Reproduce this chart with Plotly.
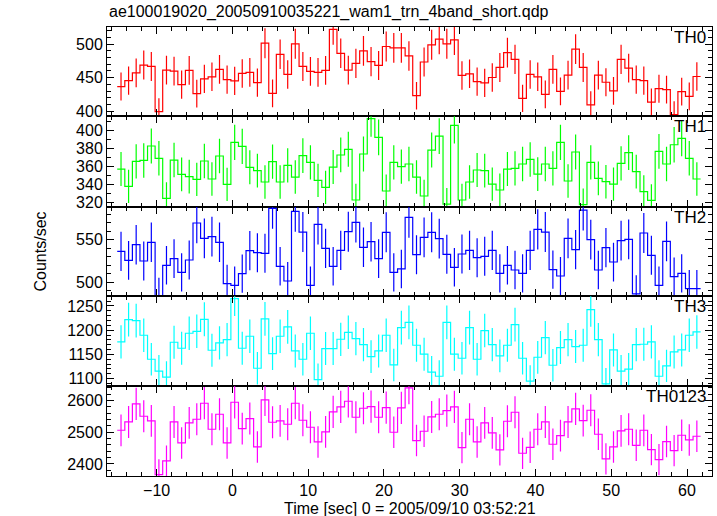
import numpy as np
import plotly.graph_objects as go

# ---- data (count rates, counts/sec, 1-s bins) ----
t_first_center = -14.7
bin_width = 1.0

th0 = [436.7, 445.7, 457.3, 468.8, 466.8, 399.5, 461.3, 459.8, 439.7, 460.8,
       426.1, 448.2, 451.3, 462.3, 447.2, 445.2, 456.3, 457.8, 442.7, 501.5,
       426.6, 484.9, 454.8, 500.5, 466.8, 459.3, 457.8, 460.8, 522.1, 486.4,
       461.3, 471.4, 490.0, 473.9, 468.3, 496.5, 494.5, 494.5,
       482.4, 423.1, 473.4, 499.0, 507.5, 500.5, 506.5, 453.3, 455.8, 444.2,
       442.2, 450.3, 465.3, 487.4, 477.4, 419.1, 454.8, 451.3, 425.1, 462.3,
       429.6, 453.8, 492.5, 465.3, 409.5, 453.8, 443.2, 430.2, 477.4, 464.3,
       447.2, 445.7, 413.5, 433.6, 432.2, 395.0, 429.1, 422.1, 451.8]

th1 = [357.4, 338.1, 365.9, 367.0, 383.0, 369.3, 324.8, 367.4, 351.5, 348.9,
       345.9, 366.3, 346.3, 371.9, 340.4, 387.0, 382.6, 359.3, 355.6, 343.0,
       365.6, 343.0, 361.5, 348.5, 372.2, 364.8, 344.8, 337.0, 359.6, 373.0,
       379.3, 323.0, 374.1, 413.5, 392.6, 333.0, 364.8, 360.0,
       363.0, 348.5, 327.4, 378.5, 394.0, 318.5, 405.9, 323.0, 343.0, 356.3,
       355.6, 340.7, 334.1, 357.4, 358.1, 363.0, 368.1, 351.8, 363.0, 358.1,
       387.0, 344.1, 376.3, 317.8, 364.8, 347.0, 343.3, 340.7, 363.7, 375.6,
       354.5, 332.2, 322.6, 377.0, 363.0, 384.4, 391.5, 369.3, 346.3]

th2 = [536.2, 525.6, 544.1, 524.8, 546.9, 483.0, 519.7, 527.6, 511.4, 526.0,
       569.7, 551.6, 553.5, 546.9, 498.0, 496.0, 509.8, 537.0, 534.6, 533.9,
       587.0, 518.5, 501.2, 583.5, 559.0, 496.0, 568.1, 539.8, 518.5, 537.4,
       559.4, 570.5, 541.0, 547.6, 527.6, 558.7, 511.4, 515.4,
       576.4, 532.3, 552.8, 558.7, 551.2, 532.7, 517.3, 533.1, 537.4, 528.7,
       530.3, 537.4, 510.2, 519.7, 514.2, 510.2, 537.4, 562.2, 559.0, 514.6,
       507.1, 551.6, 538.2, 585.0, 550.0, 514.2, 540.6, 523.6, 548.8, 550.4,
       486.0, 557.9, 531.5, 496.0, 548.0, 506.3, 510.2, 492.1, 492.1]

th3 = [1175.7, 1221.8, 1219.7, 1189.5, 1139.9, 1115.2, 1102.8, 1175.0, 1162.6, 1193.6,
       1197.7, 1222.5, 1158.5, 1173.6, 1180.5, 1265.0, 1162.6, 1187.4, 1121.3, 1223.2,
       1151.6, 1187.4, 1206.7, 1157.1, 1139.9, 1193.6, 1098.0, 1161.9, 1161.9, 1181.2,
       1195.6, 1182.6, 1170.2, 1145.4, 1157.1, 1189.5, 1128.2, 1205.3,
       1216.3, 1168.8, 1150.3, 1113.1, 1104.8, 1216.3, 1150.3, 1142.0, 1205.3, 1139.9,
       1199.1, 1170.2, 1146.8, 1168.8, 1211.5, 1142.0, 1094.5, 1144.0, 1184.6, 1127.5,
       1164.0, 1180.5, 1166.1, 1168.8, 1242.4, 1180.5, 1089.0, 1159.2, 1115.2, 1119.3,
       1170.2, 1170.9, 1175.7, 1104.8, 1126.2, 1155.0, 1159.2, 1189.5, 1196.3]

th0123 = [2506.3, 2532.6, 2589.5, 2550.5, 2535.8, 2366.3, 2409.5, 2532.6, 2466.3, 2529.5,
          2541.0, 2591.6, 2509.5, 2556.8, 2466.3, 2594.7, 2511.6, 2543.2, 2453.7, 2602.1,
          2531.6, 2535.8, 2525.3, 2591.6, 2537.9, 2515.8, 2469.5, 2501.1, 2564.2, 2580.0,
          2597.9, 2547.4, 2575.8, 2581.1, 2547.4, 2577.9, 2500.0, 2576.8,
          2640.0, 2473.7, 2503.2, 2548.4, 2556.8, 2568.4, 2580.0, 2451.6, 2541.0, 2469.5,
          2529.5, 2497.9, 2444.2, 2534.7, 2563.2, 2433.7, 2452.6, 2509.5, 2532.6, 2462.1,
          2489.5, 2532.6, 2573.7, 2536.8, 2569.5, 2493.7, 2415.8, 2453.7, 2504.2, 2509.5,
          2458.9, 2506.3, 2445.3, 2413.7, 2470.5, 2442.1, 2490.5, 2475.8, 2487.4]

panel_names = ["TH0", "TH1", "TH2", "TH3", "TH0123"]
panel_data = [th0, th1, th2, th3, th0123]
panel_colors = ["#ff0000", "#00ff00", "#0000ff", "#00ffff", "#ff00ff"]
panel_ranges = [[392.4, 525.6], [315.2, 416.0], [483.1, 588.6], [1084, 1270], [2362, 2645]]
panel_dtick = [50, 20, 50, 50, 100]
panel_minor = [10, 10, 10, 10, 20]

title_text = "ae100019020_20050910035221_wam1_trn_4band_short.qdp"
xlabel = "Time [sec] 0 = 2005/09/10 03:52:21"
ylabel = "Counts/sec"
x_range = [-16.55, 63.3]

# ---- figure ----
W, H = 717, 516
mt, mb, ml, mr = 27, 40, 107, 5
ptop, pbot = mt, H - mb
bounds = [27, 116.3, 207, 296.3, 386.3, 476]
font = "Liberation Sans, Arial, Helvetica, sans-serif"

n = len(th0)
centers = t_first_center + bin_width * np.arange(n)
edges = np.concatenate([centers - bin_width / 2, [centers[-1] + bin_width / 2]])

fig = go.Figure()
layout = {}
for i, (name, vals, col) in enumerate(zip(panel_names, panel_data, panel_colors)):
    k = i + 1
    xa = "x" if k == 1 else f"x{k}"
    ya = "y" if k == 1 else f"y{k}"
    v = np.array(vals)
    fig.add_trace(go.Scatter(x=edges, y=np.append(v, v[-1]), mode="lines",
                             line=dict(color=col, width=1.2, shape="hv"),
                             xaxis=xa, yaxis=ya, hoverinfo="skip", showlegend=False))
    fig.add_trace(go.Scatter(x=centers, y=v, mode="markers",
                             marker=dict(size=1, color="rgba(0,0,0,0)"),
                             error_y=dict(type="data", array=np.sqrt(v * bin_width) / bin_width,
                                          color=col, thickness=1.2, width=0),
                             xaxis=xa, yaxis=ya, hoverinfo="skip", showlegend=False))
    d0 = (pbot - bounds[i + 1]) / (pbot - ptop)
    d1 = (pbot - bounds[i]) / (pbot - ptop)
    axcommon = dict(showline=True, linecolor="black", linewidth=1, mirror="ticks",
                    ticks="inside", ticklen=7, tickwidth=1, tickcolor="black",
                    showgrid=False, zeroline=False,
                    tickfont=dict(family=font, size=16, color="black"))
    layout["xaxis" if k == 1 else f"xaxis{k}"] = dict(
        axcommon, domain=[0, 1], range=x_range, anchor=ya, tick0=0, dtick=10,
        minor=dict(dtick=2, tick0=0, ticks="inside", ticklen=4, tickcolor="black", tickwidth=1),
        showticklabels=(k == 5), **({} if k == 1 else {"matches": "x"}))
    layout["yaxis" if k == 1 else f"yaxis{k}"] = dict(
        axcommon, domain=[d0, d1], range=panel_ranges[i], anchor=xa, tick0=0,
        dtick=panel_dtick[i],
        minor=dict(dtick=panel_minor[i], tick0=0, ticks="inside", ticklen=4, tickcolor="black", tickwidth=1))
    fig.add_annotation(text=name, xref="paper", yref="paper", x=1, y=d1,
                       xanchor="right", yanchor="top", xshift=-4, yshift=1, showarrow=False,
                       font=dict(family=font, size=17, color="black"))

fig.update_layout(**layout)
fig.add_annotation(text=title_text, xref="paper", yref="paper", x=0, y=1,
                   xanchor="left", yanchor="middle", yshift=15, showarrow=False,
                   font=dict(family=font, size=16, color="black"))
fig.add_annotation(text=xlabel, xref="paper", yref="paper", x=0.5, y=0,
                   xanchor="center", yanchor="middle", yshift=-32, showarrow=False,
                   font=dict(family=font, size=16, color="black"))
fig.add_annotation(text=ylabel, xref="paper", yref="paper", x=0, y=0.5,
                   xanchor="center", yanchor="middle", xshift=-67, textangle=-90, showarrow=False,
                   font=dict(family=font, size=16, color="black"))
fig.update_layout(width=W, height=H, margin=dict(l=ml, r=mr, t=mt, b=mb, pad=0),
                  paper_bgcolor="white", plot_bgcolor="white", showlegend=False)
fig.write_html("out.html", config={"displayModeBar": False, "staticPlot": True},
               post_script="document.body.style.margin='0';document.body.style.padding='0';")
